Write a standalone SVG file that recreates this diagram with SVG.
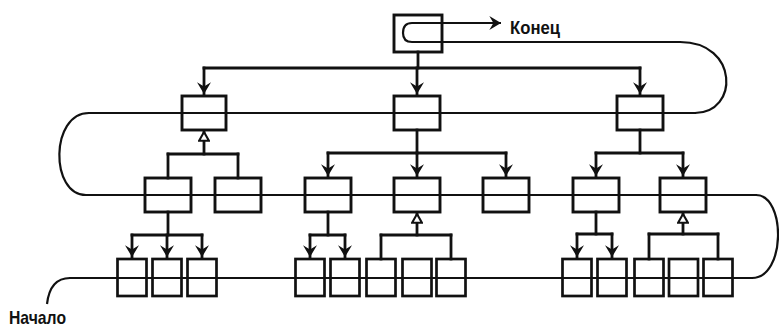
<svg xmlns="http://www.w3.org/2000/svg" width="779" height="327" viewBox="0 0 779 327">
<style>
.bx{fill:none;stroke:#111;stroke-width:2.9}
.sb{fill:none;stroke:#111;stroke-width:2.7}
.ln{fill:none;stroke:#111;stroke-width:2.8;stroke-linecap:square}
.lp{fill:none;stroke:#111;stroke-width:2.2}
.dn{marker-end:url(#ah)}
.up{marker-end:url(#hu)}
.tx{font-family:"Liberation Sans Narrow","Liberation Sans",Arial,sans-serif;font-weight:bold;font-size:19px;fill:#111}
</style>
<defs>
<marker id="ah" markerUnits="userSpaceOnUse" markerWidth="14" markerHeight="14" refX="10" refY="6" orient="auto" viewBox="0 0 12 12">
<path d="M0,0 L10,6 L0,12 L3.5,6 z" fill="#111"/>
</marker>
<marker id="hu" markerUnits="userSpaceOnUse" markerWidth="12" markerHeight="12" refX="8" refY="4.5" orient="auto" viewBox="-1 -1 11 11">
<path d="M0,0 L8,4.5 L0,9 z" fill="#fff" stroke="#111" stroke-width="1.9"/>
</marker>
</defs>
<rect width="779" height="327" fill="#fff"/>

<g id="connectors">
<path class="lp" d="M47,304 Q50,278 70,278" stroke-width="2.8"/>
<line class="lp" x1="69" y1="278" x2="753" y2="278" stroke-width="4"/>
<path class="lp" d="M752,278 C786,278 786,195 756,195" stroke-width="2.6"/>
<line class="lp" x1="757" y1="195" x2="85" y2="195" stroke-width="2.6"/>
<path class="lp" d="M86,195 C50,195 50,113 89,113" stroke-width="2.4"/>
<line class="lp" x1="88" y1="113" x2="696" y2="113" stroke-width="2"/>
<path class="lp" d="M695,113 C739,113 739,42 680,42" stroke-width="2.2"/>
<path class="lp" d="M681,42 L412,42 Q403,42 403,33 Q403,23 412,23 L501,23" stroke-width="2.2" style="marker-end:url(#ah)"/>

<line class="ln" x1="418" y1="52" x2="418" y2="68"/>
<line class="ln" x1="204" y1="68" x2="640" y2="68"/>
<line class="ln dn" x1="204" y1="68" x2="204" y2="94"/>
<line class="ln dn" x1="417" y1="68" x2="417" y2="94"/>
<line class="ln dn" x1="640" y1="68" x2="640" y2="94"/>

<line class="ln" x1="168" y1="154" x2="238" y2="154"/>
<line class="ln up" x1="204" y1="154" x2="204" y2="132"/>
<line class="ln" x1="168" y1="154" x2="168" y2="178"/>
<line class="ln" x1="238" y1="154" x2="238" y2="178"/>

<line class="ln" x1="417" y1="130" x2="417" y2="153"/>
<line class="ln" x1="328" y1="153" x2="506" y2="153"/>
<line class="ln dn" x1="328" y1="153" x2="328" y2="176"/>
<line class="ln dn" x1="417" y1="153" x2="417" y2="176"/>
<line class="ln dn" x1="506" y1="153" x2="506" y2="176"/>

<line class="ln" x1="640" y1="130" x2="640" y2="153"/>
<line class="ln" x1="596" y1="153" x2="683" y2="153"/>
<line class="ln dn" x1="596" y1="153" x2="596" y2="176"/>
<line class="ln dn" x1="683" y1="153" x2="683" y2="176"/>

<line class="ln" x1="168" y1="212" x2="168" y2="235"/>
<line class="ln" x1="132" y1="235" x2="202" y2="235"/>
<line class="ln dn" x1="132" y1="235" x2="132" y2="257"/>
<line class="ln dn" x1="167" y1="235" x2="167" y2="257"/>
<line class="ln dn" x1="202" y1="235" x2="202" y2="257"/>

<line class="ln" x1="328" y1="212" x2="328" y2="235"/>
<line class="ln" x1="310" y1="235" x2="345" y2="235"/>
<line class="ln dn" x1="310" y1="235" x2="310" y2="257"/>
<line class="ln dn" x1="345" y1="235" x2="345" y2="257"/>

<line class="ln" x1="381" y1="235" x2="451" y2="235"/>
<line class="ln up" x1="417" y1="235" x2="417" y2="214"/>
<line class="ln" x1="381" y1="235" x2="381" y2="259"/>
<line class="ln" x1="451" y1="235" x2="451" y2="259"/>

<line class="ln" x1="596" y1="212" x2="596" y2="234"/>
<line class="ln" x1="577" y1="234" x2="612" y2="234"/>
<line class="ln dn" x1="577" y1="234" x2="577" y2="257"/>
<line class="ln dn" x1="612" y1="234" x2="612" y2="257"/>

<line class="ln" x1="649" y1="234" x2="718" y2="234"/>
<line class="ln up" x1="683" y1="234" x2="683" y2="214"/>
<line class="ln" x1="649" y1="234" x2="649" y2="259"/>
<line class="ln" x1="718" y1="234" x2="718" y2="259"/>
</g>

<g id="n-root"><rect class="bx" x="394" y="15" width="48" height="37"/></g>

<g id="n-1a"><rect class="bx" x="182" y="96" width="44" height="34"/></g>
<g id="n-1b"><rect class="bx" x="394" y="96" width="46" height="34"/></g>
<g id="n-1c"><rect class="bx" x="617" y="96" width="46" height="34"/></g>

<g id="n-2a"><rect class="bx" x="145" y="178" width="46" height="34"/></g>
<g id="n-2b"><rect class="bx" x="215" y="178" width="46" height="34"/></g>
<g id="n-2c"><rect class="bx" x="305" y="178" width="46" height="34"/></g>
<g id="n-2d"><rect class="bx" x="394" y="178" width="46" height="34"/></g>
<g id="n-2e"><rect class="bx" x="483" y="178" width="46" height="34"/></g>
<g id="n-2f"><rect class="bx" x="573" y="178" width="46" height="34"/></g>
<g id="n-2g"><rect class="bx" x="660" y="178" width="46" height="34"/></g>

<g id="n-3a1"><rect class="sb" x="117.5" y="259" width="29" height="37"/></g>
<g id="n-3a2"><rect class="sb" x="152.5" y="259" width="29" height="37"/></g>
<g id="n-3a3"><rect class="sb" x="187.5" y="259" width="29" height="37"/></g>
<g id="n-3c1"><rect class="sb" x="295.5" y="259" width="29" height="37"/></g>
<g id="n-3c2"><rect class="sb" x="330.5" y="259" width="29" height="37"/></g>
<g id="n-3d1"><rect class="sb" x="366.5" y="259" width="29" height="37"/></g>
<g id="n-3d2"><rect class="sb" x="402.5" y="259" width="29" height="37"/></g>
<g id="n-3d3"><rect class="sb" x="436.5" y="259" width="29" height="37"/></g>
<g id="n-3f1"><rect class="sb" x="562.5" y="259" width="29" height="37"/></g>
<g id="n-3f2"><rect class="sb" x="597.5" y="259" width="29" height="37"/></g>
<g id="n-3g1"><rect class="sb" x="634.5" y="259" width="29" height="37"/></g>
<g id="n-3g2"><rect class="sb" x="669" y="259" width="29" height="37"/></g>
<g id="n-3g3"><rect class="sb" x="703.5" y="259" width="29" height="37"/></g>

<g id="labels">
<text class="tx" x="510" y="34" textLength="50" lengthAdjust="spacingAndGlyphs">Конец</text>
<text class="tx" x="9" y="324" textLength="57" lengthAdjust="spacingAndGlyphs">Начало</text>
</g>
</svg>
